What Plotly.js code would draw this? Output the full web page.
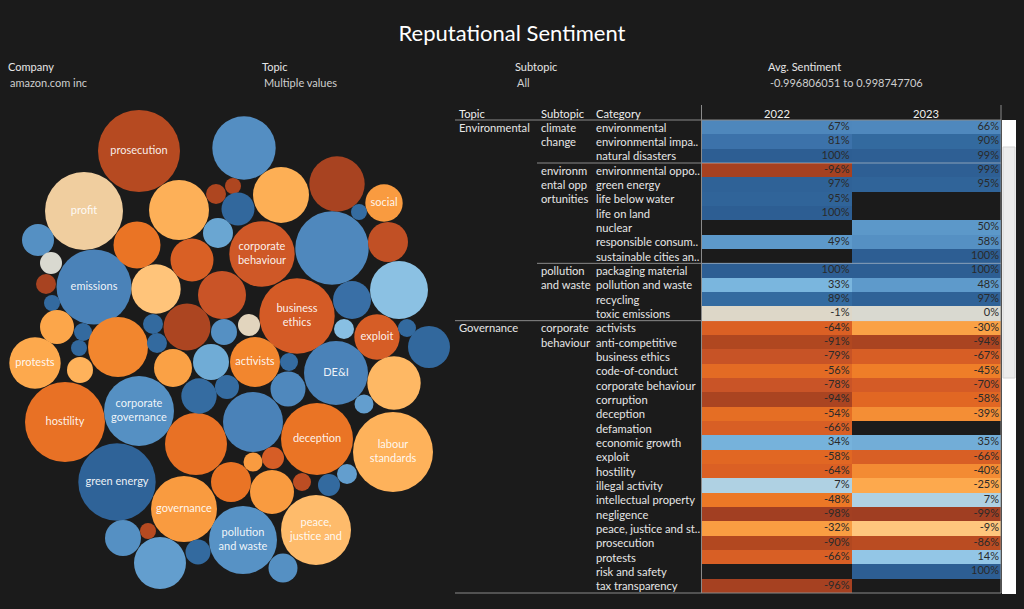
<!DOCTYPE html>
<html>
<head>
<meta charset="utf-8">
<script src="https://cdn.plot.ly/plotly-3.0.1.min.js"></script>
<style>
html,body{margin:0;padding:0;background:#1b1b1b;overflow:hidden;}
#chart{width:1024px;height:609px;}
</style>
</head>
<body>
<div id="chart"></div>
<script>
// ---------------- DATA ----------------
const filterNames  = ['Company', 'Topic', 'Subtopic', 'Avg. Sentiment'];
const filterValues = ['amazon.com inc', 'Multiple values', 'All', '-0.996806051 to 0.998747706'];

const years = ['2022', '2023'];
const categories = [
  'environmental', 'environmental impa..', 'natural disasters',
  'environmental oppo..', 'green energy', 'life below water', 'life on land', 'nuclear',
  'responsible consum..', 'sustainable cities an..',
  'packaging material', 'pollution and waste', 'recycling', 'toxic emissions',
  'activists', 'anti-competitive', 'business ethics', 'code-of-conduct', 'corporate behaviour',
  'corruption', 'deception', 'defamation', 'economic growth', 'exploit', 'hostility',
  'illegal activity', 'intellectual property', 'negligence', 'peace, justice and st..',
  'prosecution', 'protests', 'risk and safety', 'tax transparency'
];
const rowTopic = [
  'Environmental','Environmental','Environmental','Environmental','Environmental','Environmental','Environmental',
  'Environmental','Environmental','Environmental','Environmental','Environmental','Environmental','Environmental',
  'Governance','Governance','Governance','Governance','Governance','Governance','Governance','Governance',
  'Governance','Governance','Governance','Governance','Governance','Governance','Governance','Governance',
  'Governance','Governance','Governance'
];
const rowSubtopic = [
  'climate change','climate change','climate change',
  'environmental opportunities','environmental opportunities','environmental opportunities','environmental opportunities',
  'environmental opportunities','environmental opportunities','environmental opportunities',
  'pollution and waste','pollution and waste','pollution and waste','pollution and waste',
  'corporate behaviour','corporate behaviour','corporate behaviour','corporate behaviour','corporate behaviour',
  'corporate behaviour','corporate behaviour','corporate behaviour','corporate behaviour','corporate behaviour',
  'corporate behaviour','corporate behaviour','corporate behaviour','corporate behaviour','corporate behaviour',
  'corporate behaviour','corporate behaviour','corporate behaviour','corporate behaviour'
];
// wrapped subtopic labels as shown in the table
const subtopicWrapped = {
  'climate change': ['climate', 'change'],
  'environmental opportunities': ['environm', 'ental opp', 'ortunities'],
  'pollution and waste': ['pollution', 'and waste'],
  'corporate behaviour': ['corporate', 'behaviour']
};
const values2022 = [67, 81, 100, -96, 97, 95, 100, null, 49, null, 100, 33, 89, -1,
  -64, -91, -79, -56, -78, -94, -54, -66, 34, -58, -64, 7, -48, -98, -32, -90, -66, null, -96];
const values2023 = [66, 90, 99, 99, 95, null, null, 50, 58, 100, 100, 48, 97, 0,
  -30, -94, -67, -45, -70, -58, -39, null, 35, -66, -40, -25, 7, -99, -9, -86, 14, 100, null];

// Bubble chart (packed layout)
const bubbleLabels = [
  'prosecution','profit','','','','','emissions','','','','','','','','','','','','','',
  '','','','social','','','','corporate<br>behaviour','','','','','business<br>ethics','','','','exploit','','','',
  'activists','protests','','hostility','corporate<br>governance','green energy','','','','','',
  'governance','','','','','','pollution<br>and waste','','DE&I','','','','','deception','labour<br>standards',
  '','','','','','','peace,<br>justice and',''
];
const bubbleX = [139,84,179,38,51,46,94,137,156,192,52,57,83,79,118,153,157,187,216,233,
  244,281,337,384,359,238,218,262,332,388,399,352,297,222,249,344,377,407,429,224,
  255,35,80,65,139,117,196,173,211,199,227,
  184,231,123,148,160,198,243,289,336,394,364,288,253,317,393,
  253,273,272,302,329,347,316,283];
const bubbleY = [151,211,210,240,263,284,287,245,289,260,303,327,332,348,347,324,343,327,194,186,
  148,195,184,203,212,209,233,254,248,242,290,300,316,295,325,329,337,328,347,332,
  362,363,370,422,411,482,444,368,362,396,387,
  509,482,538,531,563,552,540,362,373,383,404,389,422,439,452,
  462,458,492,482,485,474,530,568];
const bubbleR = [41,39,30,16,11,10,37.5,23.5,24.7,21.5,8,17,9,8,30,10,10,23.5,10,8,
  31.7,28,27.7,18.7,8,16.5,15,32.7,36.7,20,29,19,37.7,24,11,10,22.7,9,21,13,
  25,25.7,13,40,35,38.7,31,19,18,17.7,12,
  33,20,18,8,26,12.5,34,9,32,26.7,9.5,17.5,30,36,40,
  9.5,11,22,9,11,10,35,14.5];
const bubbleSentiment = [-0.88,-0.05,-0.21,0.58,0.0,-0.95,0.7,-0.5,-0.1,-0.65,0.9,-0.27,0.9,0.92,-0.42,0.9,0.9,-0.93,-0.92,-0.92,
  0.6,-0.22,-0.95,-0.33,0.88,0.92,0.4,-0.74,0.66,-0.82,0.2,0.84,-0.7,-0.78,-0.02,0.22,-0.68,0.9,0.92,0.58,
  -0.42,-0.25,-0.2,-0.52,0.58,0.96,-0.52,-0.3,0.36,0.88,0.88,
  -0.33,-0.5,0.58,-0.88,0.45,0.9,0.56,0.88,0.7,-0.17,0.45,0.66,0.7,-0.5,-0.2,
  -0.33,-0.68,-0.33,-0.85,0.9,0.45,-0.15,0.58];

// ---------------- STYLE ----------------
const BG = '#1b1b1b';
const FONT = 'Lato, "Open Sans", sans-serif';
const W = 1024, H = 609;
const TS = 11.2; // table text size
const colorscale = [
  [0, '#9e3d22'], [0.05, '#b24820'], [0.12, '#cd5628'], [0.2, '#df6423'],
  [0.27, '#ee7b26'], [0.32, '#f7963b'], [0.38, '#fdab4f'], [0.46, '#ffc880'],
  [0.495, '#ddd7c8'], [0.5, '#d9d9d0'], [0.53, '#b3d3e2'], [0.57, '#93c6e6'],
  [0.665, '#7ab6de'], [0.675, '#72add7'], [0.74, '#5e9acb'], [0.79, '#5590c3'],
  [0.83, '#4f88bd'], [0.905, '#3c72aa'], [0.95, '#336a9f'], [1, '#2d5e93']
];

// table geometry (pixels)
const tblTop = 120, tblBottom = 593, cellLeft = 702, cellRight = 1001;
const colTopicX = 457, colSubX = 539, colCatX = 594;

const n = categories.length;
const rowIdx = categories.map((_, i) => i);

// ---------------- TRACES ----------------
const traces = [];

traces.push({
  type: 'scatter', mode: 'markers+text', xaxis: 'x', yaxis: 'y',
  x: bubbleX, y: bubbleY, text: bubbleLabels,
  textposition: 'middle center',
  textfont: {family: FONT, size: 11, color: 'rgba(255,255,255,0.92)'},
  marker: {
    size: bubbleR.map(r => 2 * r), sizemode: 'diameter', sizeref: 1,
    color: bubbleSentiment, colorscale: colorscale, cmin: -1, cmax: 1,
    line: {width: 0}, opacity: 1
  },
  hoverinfo: 'skip', showlegend: false
});

const z = rowIdx.map(i => [
  values2022[i] === null ? null : values2022[i] / 100,
  values2023[i] === null ? null : values2023[i] / 100
]);
traces.push({
  type: 'heatmap', xaxis: 'x2', yaxis: 'y2',
  x: [0, 1], y: rowIdx, z: z,
  colorscale: colorscale, zmin: -1, zmax: 1, showscale: false,
  hoverinfo: 'skip', xgap: 0, ygap: 0
});

const tx = [], ty = [], tt = [];
[values2022, values2023].forEach((vals, c) => {
  vals.forEach((v, i) => {
    if (v !== null) { tx.push(c + 0.487); ty.push(i); tt.push(v + '%'); }
  });
});
traces.push({
  type: 'scatter', mode: 'text', xaxis: 'x2', yaxis: 'y2',
  x: tx, y: ty, text: tt, textposition: 'middle left',
  textfont: {family: FONT, size: 11, color: '#2a2a2a'},
  hoverinfo: 'skip', showlegend: false
});

// ---------------- ANNOTATIONS ----------------
const ann = [];
const filterX = [6, 260, 513, 766];
filterNames.forEach((t, k) => {
  ann.push({xref: 'paper', yref: 'paper', x: filterX[k] / W, y: 1 - 67 / H, xanchor: 'left', yanchor: 'middle',
    text: t, showarrow: false, font: {family: FONT, size: 11, color: '#e6e6e6'}});
  ann.push({xref: 'paper', yref: 'paper', x: (filterX[k] + 2) / W, y: 1 - 82 / H, xanchor: 'left', yanchor: 'middle',
    text: filterValues[k], showarrow: false, font: {family: FONT, size: 11, color: '#cfcfcf'}});
});

// table headers
[['Topic', colTopicX], ['Subtopic', colSubX], ['Category', colCatX]].forEach(h => {
  ann.push({xref: 'paper', yref: 'paper', x: h[1] / W, y: 1 - 113 / H, xanchor: 'left', yanchor: 'middle',
    text: h[0], showarrow: false, font: {family: FONT, size: TS, color: '#eeeeee'}});
});
years.forEach((yr, c) => {
  ann.push({xref: 'x2', yref: 'paper', x: c, y: 1 - 113 / H, xanchor: 'center', yanchor: 'middle',
    text: yr, showarrow: false, font: {family: FONT, size: TS, color: '#eeeeee'}});
});

// category labels
categories.forEach((c, i) => {
  ann.push({xref: 'paper', yref: 'y2', x: colCatX / W, y: i, xanchor: 'left', yanchor: 'middle',
    text: c, showarrow: false, font: {family: FONT, size: TS, color: '#e6e6e6'}});
});

// topic and subtopic labels + separators
const shapes = [];
rowIdx.forEach(i => {
  const newTopic = i === 0 || rowTopic[i] !== rowTopic[i - 1];
  const newSub = i === 0 || rowSubtopic[i] !== rowSubtopic[i - 1];
  if (newTopic) {
    ann.push({xref: 'paper', yref: 'y2', x: colTopicX / W, y: i, xanchor: 'left', yanchor: 'middle',
      text: rowTopic[i], showarrow: false, font: {family: FONT, size: TS, color: '#e6e6e6'}});
  }
  if (newSub) {
    subtopicWrapped[rowSubtopic[i]].forEach((line, k) => {
      ann.push({xref: 'paper', yref: 'y2', x: colSubX / W, y: i + k, xanchor: 'left', yanchor: 'middle',
        text: line, showarrow: false, font: {family: FONT, size: TS, color: '#e6e6e6'}});
    });
  }
  if (i > 0 && (newTopic || newSub)) {
    const x0 = newTopic ? 455 : 537;
    shapes.push({type: 'line', xref: 'paper', yref: 'y2', x0: x0 / W, x1: cellLeft / W, y0: i - 0.5, y1: i - 0.5,
      line: {color: '#8a8a8a', width: 1}});
    shapes.push({type: 'line', xref: 'paper', yref: 'y2', x0: cellLeft / W, x1: cellRight / W, y0: i - 0.5, y1: i - 0.5,
      line: {color: 'rgba(215,215,215,0.55)', width: 1}});
  }
});

// header underline, vertical divider, bottom line
shapes.push({type: 'line', xref: 'paper', yref: 'paper', x0: 455 / W, x1: cellRight / W,
  y0: 1 - tblTop / H, y1: 1 - tblTop / H, line: {color: '#8a8a8a', width: 1.2}});
shapes.push({type: 'line', xref: 'paper', yref: 'paper', x0: 701.5 / W, x1: 701.5 / W,
  y0: 1 - 105 / H, y1: 1 - tblBottom / H, line: {color: '#8a8a8a', width: 1}});
shapes.push({type: 'line', xref: 'paper', yref: 'paper', x0: cellRight / W, x1: cellRight / W,
  y0: 1 - 105 / H, y1: 1 - tblBottom / H, line: {color: '#8a8a8a', width: 1}});
shapes.push({type: 'line', xref: 'paper', yref: 'paper', x0: 455 / W, x1: cellRight / W,
  y0: 1 - tblBottom / H, y1: 1 - tblBottom / H, line: {color: '#8a8a8a', width: 1.2}});
// scrollbar
shapes.push({type: 'rect', xref: 'paper', yref: 'paper', x0: 1002 / W, x1: 1016 / W,
  y0: 1 - 594 / H, y1: 1 - tblTop / H, fillcolor: '#ffffff', line: {width: 0}});
shapes.push({type: 'rect', xref: 'paper', yref: 'paper', x0: 1003 / W, x1: 1015 / W,
  y0: 1 - 378 / H, y1: 1 - 147 / H, fillcolor: '#ececec', line: {color: '#d4d4d4', width: 1}});

// ---------------- LAYOUT ----------------
const hidden = {showgrid: false, zeroline: false, showticklabels: false, ticks: '', showline: false, fixedrange: true};
const layout = {
  width: W, height: H,
  margin: {l: 0, r: 0, t: 0, b: 0, pad: 0},
  paper_bgcolor: BG, plot_bgcolor: 'rgba(0,0,0,0)',
  title: {text: 'Reputational Sentiment', x: 0.5, xanchor: 'center', xref: 'paper',
    y: 1 - 33 / H, yanchor: 'middle', yref: 'container',
    font: {family: FONT, size: 22, color: '#ffffff'}},
  xaxis: Object.assign({domain: [0, 450 / W], range: [0, 450]}, hidden),
  yaxis: Object.assign({domain: [0, 1], range: [H, 0]}, hidden),
  xaxis2: Object.assign({domain: [cellLeft / W, cellRight / W], range: [-0.5, 1.5], anchor: 'y2'}, hidden),
  yaxis2: Object.assign({domain: [1 - tblBottom / H, 1 - tblTop / H], range: [n - 0.5, -0.5], anchor: 'x2'}, hidden),
  annotations: ann,
  shapes: shapes,
  showlegend: false
};

Plotly.newPlot('chart', traces, layout, {displayModeBar: false, staticPlot: true});
</script>
</body>
</html>
